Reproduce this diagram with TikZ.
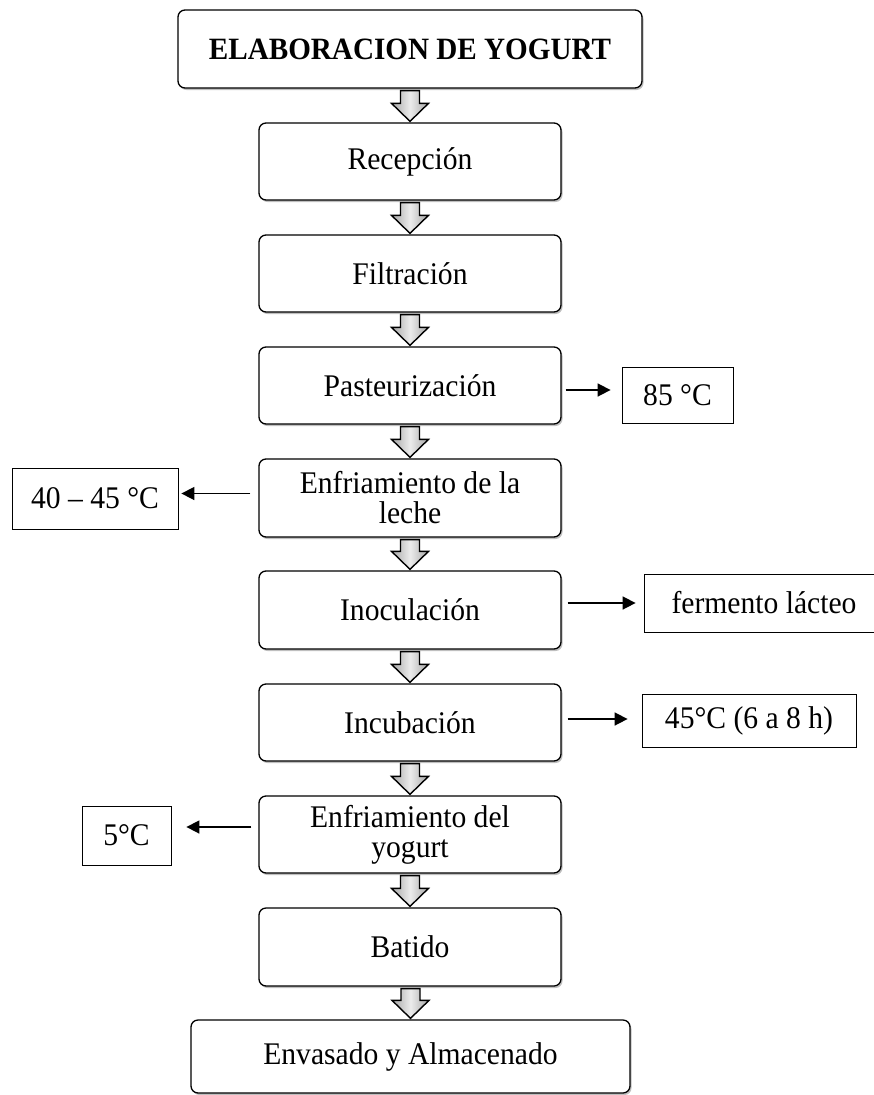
\documentclass[tikz,border=0pt]{standalone}
\usepackage{fontspec}
\setmainfont{Liberation Serif}[FakeStretch=0.94]
\usetikzlibrary{arrows.meta, shadows}

\tikzset{
    paso/.style={draw, line width=1.3pt, rounded corners=7pt, fill=white, align=center,
        minimum width=302pt, minimum height=77pt, inner sep=0pt,
        font=\fontsize{31.5}{30}\selectfont,
        drop shadow={shadow xshift=1.5pt, shadow yshift=-2pt, opacity=0.25, fill=black}},
    dato/.style={draw, line width=0.8pt, fill=white, inner sep=0pt,
        font=\fontsize{31.5}{30}\selectfont},
    lateral/.style={line width=1.6pt, -{Triangle[length=13pt,width=13pt]}},
    flechagris/.style={draw=black, line width=1.4pt, line join=miter,
        left color=gray!70, right color=gray!70, middle color=gray!15}
}

% block arrow between two steps
\newcommand{\flecha}[2]{%
    \coordinate (base) at (#1.south -| #2.north);
    \draw[flechagris] ([xshift=-9.5pt,yshift=-2pt]base) -- ([xshift=9.5pt,yshift=-2pt]base)
        -- ([xshift=9.5pt,yshift=19pt]#2.north) -- ([xshift=18.5pt,yshift=19pt]#2.north)
        -- ([yshift=1pt]#2.north) -- ([xshift=-18.5pt,yshift=19pt]#2.north)
        -- ([xshift=-9.5pt,yshift=19pt]#2.north) -- cycle;
}

\begin{document}
\begin{tikzpicture}[x=1pt, y={(0pt,-1pt)}]
    % variables
    \pgfmathsetmacro{\vCentro}{410}

    \useasboundingbox (0,0) rectangle (873,1095);

    \node[paso, minimum width=464pt, minimum height=78pt, font=\fontsize{31}{30}\selectfont\bfseries]
        (titulo) at (\vCentro,49) {ELABORACION DE YOGURT};

    \node[paso] (recepcion) at (\vCentro,161.5) {Recepción};
    \node[paso] (filtracion) at (\vCentro,273.5) {Filtración};
    \node[paso] (pasteurizacion) at (\vCentro,385.5) {Pasteurización};
    \node[paso, minimum height=78pt] (enfriamientoA) at (\vCentro,498) {Enfriamiento de la\\leche};
    \node[paso, minimum height=78pt] (inoculacion) at (\vCentro,610) {Inoculación};
    \node[paso] (incubacion) at (\vCentro,722.5) {Incubación};
    \node[paso] (enfriamientoB) at (\vCentro,834.5) {Enfriamiento del\\yogurt};
    \node[paso, minimum height=78pt] (batido) at (\vCentro,947) {Batido};
    \node[paso, minimum width=439pt, minimum height=73pt] (envasado) at (410.5,1056.5) {Envasado y Almacenado};

    \node[dato, minimum width=111pt, minimum height=56pt] (t85) at (677.5,395) {85 °C};
    \node[dato, minimum width=166pt, minimum height=61pt] (t4045) at (95,498.5) {40 – 45 °C};
    \node[dato, minimum width=270pt, minimum height=58pt] (fermento) at (779,603) {\hspace*{-30pt}fermento lácteo};
    \node[dato, minimum width=214pt, minimum height=53pt] (t45) at (749,720.5) {45°C (6 a 8 h)};
    \node[dato, minimum width=89pt, minimum height=59pt] (t5) at (126.5,835.5) {5°C};

    \flecha{titulo}{recepcion}
    \flecha{recepcion}{filtracion}
    \flecha{filtracion}{pasteurizacion}
    \flecha{pasteurizacion}{enfriamientoA}
    \flecha{enfriamientoA}{inoculacion}
    \flecha{inoculacion}{incubacion}
    \flecha{incubacion}{enfriamientoB}
    \flecha{enfriamientoB}{batido}
    \flecha{batido}{envasado}

    \draw[lateral, shorten <=4pt, shorten >=11pt] ([yshift=5pt]t85.west -| pasteurizacion.east) -- ([yshift=5pt]t85.west);
    \draw[lateral, shorten <=8pt, shorten >=3pt] ([yshift=5pt]t4045.east -| enfriamientoA.west) -- ([yshift=5pt]t4045.east);
    \draw[lateral, shorten <=6pt, shorten >=8pt] (fermento.west -| inoculacion.east) -- (fermento.west);
    \draw[lateral, shorten <=6pt, shorten >=14pt] ([yshift=1.5pt]t45.west -| incubacion.east) -- ([yshift=1.5pt]t45.west);
    \draw[lateral, shorten <=7pt, shorten >=15pt] ([yshift=8.5pt]t5.east -| enfriamientoB.west) -- ([yshift=8.5pt]t5.east);
\end{tikzpicture}
\end{document}
